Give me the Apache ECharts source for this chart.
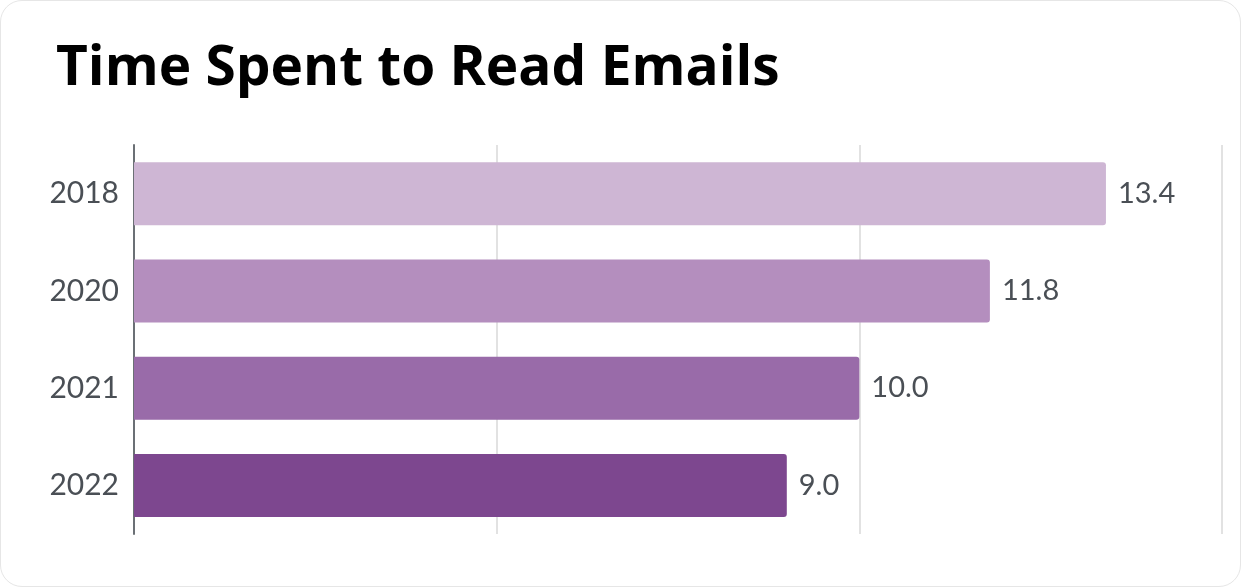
<!DOCTYPE html>
<html>
<head>
<meta charset="utf-8">
<script src="https://cdn.jsdelivr.net/npm/echarts@6/dist/echarts.min.js"></script>
<style>
  html, body { margin: 0; padding: 0; background: #fff; }
  #card {
    position: absolute; left: 0; top: 0;
    width: 1239px; height: 585px;
    border: 1px solid #e6e6e6; border-radius: 22px;
    background: #fff; overflow: hidden;
  }
  #chart { width: 1239px; height: 585px; }
</style>
</head>
<body>
<div id="card"><div id="chart"></div></div>
<script>
const years = ['2018', '2020', '2021', '2022'];
const minutes = [13.4, 11.8, 10.0, 9.0];
const barColors = ['#ceb6d4', '#b48ebe', '#996ba9', '#7d478f'];

const chart = echarts.init(document.getElementById('chart'));
chart.setOption({
  animation: false,
  title: {
    text: 'Time Spent to Read Emails',
    left: 50, top: 36,
    textStyle: { fontFamily: 'Open Sans', fontWeight: 'bold', fontSize: 55, color: '#000' }
  },
  grid: { left: 133, right: 18, top: 144, bottom: 52 },
  xAxis: {
    type: 'value', min: 0, max: 15, interval: 5,
    axisLabel: { show: false },
    axisLine: { show: false },
    axisTick: { show: false },
    splitLine: { lineStyle: { color: '#d9d9d9', width: 1.5 } }
  },
  yAxis: {
    type: 'category', data: years, inverse: true,
    axisLine: { lineStyle: { color: '#6b7075', width: 2 } },
    axisTick: { show: false },
    axisLabel: { margin: 15, fontFamily: 'Lato', fontSize: 30, color: '#4a4f55' }
  },
  series: [{
    type: 'bar',
    barWidth: 63,
    data: minutes.map((v, i) => ({ value: v, itemStyle: { color: barColors[i] } })),
    itemStyle: { borderRadius: [0, 3, 3, 0] },
    label: {
      show: true, position: 'right', distance: 12,
      formatter: p => p.value.toFixed(1),
      fontFamily: 'Lato', fontSize: 29, color: '#4a4f55'
    }
  }]
});
</script>
</body>
</html>
